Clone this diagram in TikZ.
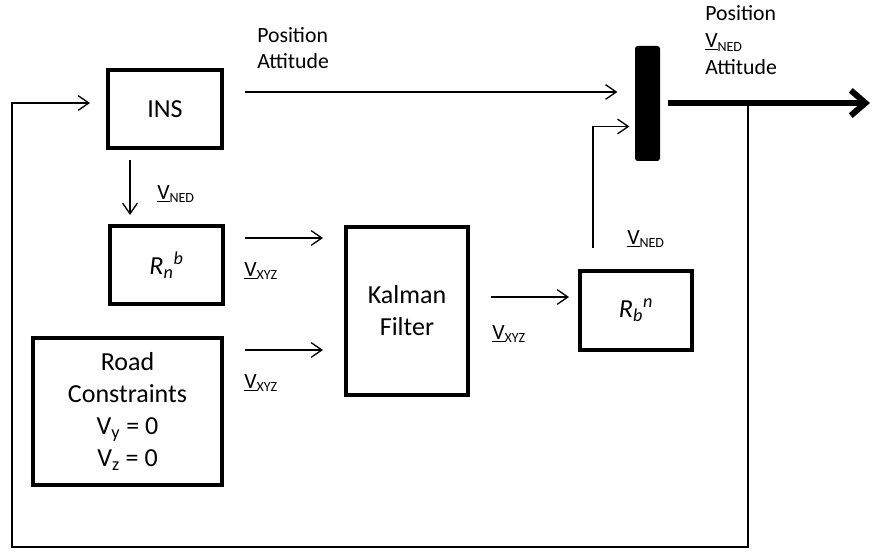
\documentclass[tikz,border=0pt]{standalone}
\usepackage{fontspec}
\setmainfont{Carlito}
\usetikzlibrary{arrows.meta}
\newcommand{\vel}[1]{\underline{V}\raisebox{-0.35ex}{\fontsize{10.5}{10.5}\selectfont #1}}
\begin{document}
\begin{tikzpicture}[x=0.75pt,y=-0.75pt,
    box/.style={draw,line width=2.3pt,inner sep=0pt,align=center,font=\fontsize{19.5}{24}\selectfont},
    lbl/.style={inner sep=0pt,anchor=west,align=left,font=\fontsize{16.3}{20}\selectfont},
    arr/.style={line width=1pt,-{Straight Barb[length=8pt,width=11pt]}},
    thickarr/.style={line width=4.5pt,-{Straight Barb[length=11pt,width=19pt]}}]
    \useasboundingbox (0,0) rectangle (875,552);

    % blocks
    \node[box,minimum width=85.5pt,minimum height=58.5pt] (ins) at (165,109) {INS};
    \node[box,minimum width=84.75pt,minimum height=58.5pt] (rnb) at (166.5,265) {\textit{R}\textsubscript{\textit{n}}\textsuperscript{\textit{b}}};
    \node[box,minimum width=141.75pt,minimum height=110.25pt] (road) at (127.5,411.5) {Road\\Constraints\\V\textsubscript{y} = 0\\V\textsubscript{z} = 0};
    \node[box,minimum width=91.5pt,minimum height=126pt] (kal) at (407,311) {Kalman\\Filter};
    \node[box,minimum width=84pt,minimum height=59.25pt] (rbn) at (636,310.5) {\textit{R}\textsubscript{\textit{b}}\textsuperscript{\textit{n}}};
    \node[fill=black,rounded corners=2pt,inner sep=0pt,minimum width=18.75pt,minimum height=86.25pt] (bar) at (647.5,103.5) {};

    % signal ends
    \coordinate (posout) at (245,92);
    \coordinate (vned1) at (130,160);
    \coordinate (vned2) at (130,215);
    \coordinate (xyz1) at (245,238);
    \coordinate (xyz1e) at (323,238);
    \coordinate (xyz2) at (245,350);
    \coordinate (xyz2e) at (323,350);
    \coordinate (xyz3) at (491,297);
    \coordinate (xyz3e) at (569,297);
    \coordinate (nedup) at (593,248);
    \coordinate (tap) at (748,103);
    \coordinate (fbin) at (90,103);

    % connectors
    \draw[arr,shorten >=13pt] (posout) -- (posout -| bar.west);
    \draw[arr] (vned1) -- (vned2);
    \draw[arr] (xyz1) -- (xyz1e);
    \draw[arr] (xyz2) -- (xyz2e);
    \draw[arr] (xyz3) -- (xyz3e);
    \draw[arr,shorten >=4pt] (nedup) |- ([yshift=-17.25pt]bar.west);
    \draw[thickarr,shorten <=6pt] (bar.east |- tap) -- (870,103);
    \draw[line width=1pt,-{Straight Barb[length=8pt,width=11pt]}] (tap) -- (748,547) -- (12,547) -- (12,103) -- (fbin);

    % labels
    \node[lbl] (l1) at (257,48) {Position\\Attitude};
    \node[lbl] (l2) at (705,40) {Position\\\vel{NED}\\Attitude};
    \node[lbl] (l3) at (157,194) {\vel{NED}};
    \node[lbl] (l4) at (244,271) {\vel{XYZ}};
    \node[lbl] (l5) at (244,383) {\vel{XYZ}};
    \node[lbl] (l6) at (492,334) {\vel{XYZ}};
    \node[lbl] (l7) at (627,239) {\vel{NED}};
\end{tikzpicture}
\end{document}
